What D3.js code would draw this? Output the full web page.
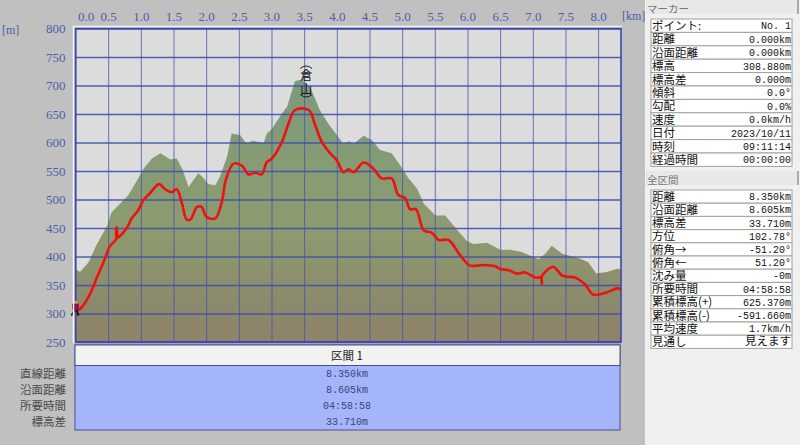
<!DOCTYPE html>
<html lang="ja">

<head>
  <meta charset="UTF-8">
  <title>Elevation profile</title>
  <script src="https://d3js.org/d3.v7.min.js"></script>
  <style>
    body {
      margin: 0;
      padding: 0;
      background: #c0c0c0;
      overflow: hidden;
    }

    svg {
      display: block;
    }

    text {
      font-family: "Noto Sans CJK JP", sans-serif;
    }

    .axis text {
      font-family: "Liberation Serif", serif;
      font-size: 13px;
      fill: #4f5da8;
    }

    .axis path,
    .axis .tick line {
      stroke: #3f4fb0;
    }

    .mono {
      font-family: "Liberation Mono", monospace;
      font-size: 10px;
    }
  </style>
</head>

<body>
  <div id="chart"></div>
  <script>
    const xTicks = [0, 0.5, 1, 1.5, 2, 2.5, 3, 3.5, 4, 4.5, 5, 5.5, 6, 6.5, 7, 7.5, 8];
    const yTicks = [250, 300, 350, 400, 450, 500, 550, 600, 650, 700, 750, 800];

    const terrainKm = [0, 0.01, 0.07, 0.2, 0.32, 0.49, 0.55, 0.81, 0.96, 1.04, 1.17, 1.3, 1.45, 1.55, 1.64, 1.73, 1.88, 1.95, 2.03, 2.14, 2.21, 2.32, 2.39, 2.52, 2.61, 2.72, 2.88, 2.93, 3, 3.16, 3.24, 3.36, 3.46, 3.59, 3.74, 3.87, 4, 4.1, 4.19, 4.26, 4.41, 4.54, 4.66, 4.84, 4.97, 5.1, 5.23, 5.33, 5.51, 5.66, 5.76, 5.99, 6.09, 6.3, 6.5, 6.65, 6.83, 7.01, 7.09, 7.19, 7.29, 7.45, 7.73, 7.85, 7.97, 8.13, 8.31, 8.35];
    const terrainM = [378, 377, 373, 390, 420, 455, 477, 508, 537, 554, 572, 581, 570, 572, 552, 522, 546, 539, 527, 525, 540, 575, 616, 613, 599, 603, 599, 616, 623, 651, 663, 708, 710, 698, 657, 633, 613, 598, 602, 598, 612, 604, 587, 581, 560, 537, 519, 493, 472, 472, 458, 427, 422, 424, 412, 412, 408, 399, 395, 405, 419, 405, 396, 390, 370, 373, 379, 376];

    const trackKm = [0, 0.07, 0.2, 0.32, 0.45, 0.52, 0.63, 0.63, 0.63, 0.78, 0.86, 0.96, 1.04, 1.14, 1.28, 1.37, 1.47, 1.55, 1.63, 1.7, 1.76, 1.86, 1.93, 2.01, 2.14, 2.24, 2.3, 2.42, 2.55, 2.65, 2.75, 2.85, 2.93, 3, 3.16, 3.26, 3.36, 3.57, 3.67, 3.77, 3.9, 4, 4.1, 4.18, 4.26, 4.41, 4.56, 4.69, 4.84, 4.94, 5.05, 5.12, 5.21, 5.33, 5.45, 5.56, 5.71, 5.89, 6.04, 6.24, 6.42, 6.5, 6.63, 6.76, 6.88, 7.04, 7.12, 7.14, 7.14, 7.19, 7.31, 7.46, 7.65, 7.8, 7.93, 8.13, 8.29, 8.35];
    const trackM = [305, 308, 329, 361, 396, 417, 432, 451, 432, 449, 467, 481, 499, 511, 527, 518, 513, 518, 493, 465, 465, 487, 487, 469, 467, 496, 534, 563, 559, 544, 547, 544, 566, 571, 601, 633, 657, 657, 630, 601, 581, 569, 548, 553, 548, 565, 554, 537, 537, 508, 502, 483, 483, 446, 442, 429, 429, 402, 384, 385, 383, 378, 376, 370, 372, 363, 363, 352, 366, 373, 382, 366, 363, 351, 333, 337, 344, 342];

    const sectionTitle = "区間 1";
    const sectionLabels = ["直線距離", "沿面距離", "所要時間", "標高差"];
    const sectionValues = ["8.350km", "8.605km", "04:58:58", "33.710m"];

    const markerLabels = ["ポイント:", "距離", "沿面距離", "標高", "標高差", "傾斜", "勾配", "速度", "日付", "時刻", "経過時間"];
    const markerValues = ["No. 1", "0.000km", "0.000km", "308.880m", "0.000m", "0.0°", "0.0%", "0.0km/h", "2023/10/11", "09:11:14", "00:00:00"];

    const totalLabels = ["距離", "沿面距離", "標高差", "方位", "俯角→", "俯角←", "沈み量", "所要時間", "累積標高(+)", "累積標高(-)", "平均速度", "見通し"];
    const totalValues = ["8.350km", "8.605km", "33.710m", "102.78°", "-51.20°", "51.20°", "-0m", "04:58:58", "625.370m", "-591.660m", "1.7km/h", "見えます"];

    const margin = { left: 75.5, top: 28.5 },
      width = 545.5,
      height = 313.5;

    const svg = d3.select("#chart")
      .append("svg")
      .attr("width", 800)
      .attr("height", 445);

    const g = svg.append("g")
      .attr("transform", `translate(${margin.left}, ${margin.top})`);

    const x = d3.scaleLinear().domain([0, 8.35]).range([0, width]);
    const y = d3.scaleLinear().domain([250, 800]).range([height, 0]);

    g.append("rect")
      .attr("width", width)
      .attr("height", height)
      .attr("fill", "#dcdcdc");

    // white edge around the plot
    svg.append("path")
      .attr("d", `M${margin.left - 2},${margin.top + height + 1}V${margin.top - 2}H${margin.left + width + 1}`)
      .attr("fill", "none")
      .attr("stroke", "#f4f4f4")
      .attr("stroke-width", 1.5);

    const grad = svg.append("defs").append("linearGradient")
      .attr("id", "ground")
      .attr("gradientUnits", "userSpaceOnUse")
      .attr("x1", 0).attr("x2", 0)
      .attr("y1", y(720)).attr("y2", y(250));
    [[0, "#7a9a7e"], [0.35, "#869c73"], [0.6, "#8e9a6e"], [0.85, "#8b8a6c"], [1, "#8f8268"]].forEach(s => {
      grad.append("stop").attr("offset", s[0]).attr("stop-color", s[1]);
    });

    const area = d3.area()
      .x((d, i) => x(terrainKm[i]))
      .y0(height)
      .y1(d => y(d));

    g.append("path")
      .datum(terrainM)
      .attr("d", area)
      .attr("fill", "url(#ground)");

    // grid lines come from the axes
    const yAxis = g.append("g")
      .attr("class", "axis")
      .call(d3.axisLeft(y).tickValues(yTicks).tickSize(-width).tickPadding(10).tickFormat(d3.format("d")));
    yAxis.select(".domain").remove();
    yAxis.selectAll(".tick line").attr("stroke-width", 1.3).attr("stroke-opacity", 0.9);

    const xAxis = g.append("g")
      .attr("class", "axis")
      .call(d3.axisTop(x).tickValues(xTicks).tickSize(-height).tickPadding(8).tickFormat(d3.format(".1f")));
    xAxis.select(".domain").remove();
    xAxis.selectAll(".tick line").attr("stroke-width", 1).attr("stroke-opacity", 0.75);
    xAxis.selectAll(".tick text").filter(d => d === 0).attr("dx", 10);

    g.append("rect")
      .attr("width", width)
      .attr("height", height)
      .attr("fill", "none")
      .attr("stroke", "#3a46a8")
      .attr("stroke-width", 1.6);

    const line = d3.line()
      .x((d, i) => x(trackKm[i]))
      .y(d => y(d))
      .curve(d3.curveCatmullRom.alpha(0.5));

    g.append("path")
      .datum(trackM)
      .attr("d", line)
      .attr("fill", "none")
      .attr("stroke", "#ee1111")
      .attr("stroke-width", 2.6)
      .attr("stroke-linejoin", "round");

    // unit labels
    svg.append("text").attr("class", "unit").attr("x", 2).attr("y", 34).text("[m]");
    svg.append("text").attr("class", "unit").attr("x", 622).attr("y", 20).text("[km]");
    svg.selectAll(".unit")
      .attr("font-size", 12)
      .attr("fill", "#4f5da8")
      .style("font-family", "Liberation Serif");

    // peak label, set vertically with arcs above and below
    const peak = g.append("g").attr("transform", `translate(${x(3.5) + 2}, ${y(700)})`);
    peak.append("text").attr("y", -6).text("倉");
    peak.append("text").attr("y", 8).text("山");
    peak.selectAll("text")
      .attr("text-anchor", "middle")
      .attr("font-size", 12)
      .attr("fill", "#111");
    peak.append("path")
      .attr("d", "M-6,-17Q0,-22 6,-17M-6,9Q0,14 6,9")
      .attr("fill", "none")
      .attr("stroke", "#111")
      .attr("stroke-width", 0.9);

    // walker icon at the start of the track
    const walker = g.append("g").attr("transform", `translate(${x(0)}, ${y(trackM[0])})`);
    walker.append("circle").attr("cx", 0).attr("cy", -8).attr("r", 2).attr("fill", "#d8a070");
    walker.append("rect").attr("x", -3.5).attr("y", -7).attr("width", 7).attr("height", 6).attr("fill", "#8a1840");
    walker.append("path").attr("d", "M-1,-1L-4,5M1,-1L3,5").attr("stroke", "#111").attr("stroke-width", 1.8);

    // section table under the plot
    const tableX = 75, tableW = 545;
    svg.append("rect").attr("x", tableX).attr("y", 345).attr("width", tableW).attr("height", 85)
      .attr("fill", "#a5b5fb").attr("stroke", "#4a4f90").attr("stroke-width", 1);
    svg.append("rect").attr("x", tableX).attr("y", 345).attr("width", tableW).attr("height", 20.5)
      .attr("fill", "#f2f2f0").attr("stroke", "#4a4f90").attr("stroke-width", 1);
    svg.append("text").attr("x", tableX + 272).attr("y", 360)
      .attr("text-anchor", "middle").attr("font-size", 11.5).attr("fill", "#222").text(sectionTitle);

    sectionLabels.forEach((label, i) => {
      const ty = 377.5 + i * 16;
      svg.append("text").attr("x", 66).attr("y", ty).attr("text-anchor", "end")
        .attr("font-size", 11.5).attr("fill", "#4a4a4a").text(label);
      svg.append("text").attr("class", "mono").attr("x", tableX + 272).attr("y", ty - 1).attr("text-anchor", "middle")
        .attr("fill", "#36467a").text(sectionValues[i]);
    });

    // right side panel
    svg.append("rect").attr("x", 645).attr("y", 0).attr("width", 155).attr("height", 445).attr("fill", "#f0f0f0");

    function tab(top, title) {
      svg.append("rect").attr("x", 646).attr("y", top).attr("width", 152).attr("height", 14)
        .attr("fill", "#e8e8e8");
      svg.append("path").attr("d", `M798,${top}v14`).attr("fill", "none").attr("stroke", "#666").attr("stroke-width", 1);
      svg.append("text").attr("x", 647).attr("y", top + 12.5).attr("font-size", 10.5).attr("fill", "#777").text(title);
    }

    function infoTable(top, rowH, labels, values) {
      const left = 651, right = 792;
      const rows = svg.append("g").selectAll("g")
        .data(labels)
        .enter()
        .append("g")
        .attr("transform", (d, i) => `translate(0, ${top + i * rowH})`);
      rows.append("rect")
        .attr("x", left)
        .attr("width", right - left)
        .attr("height", rowH)
        .attr("fill", "#fff")
        .attr("stroke", "#a0a0a0")
        .attr("stroke-width", 1);
      rows.append("text")
        .attr("x", left + 1)
        .attr("y", rowH - 2.5)
        .attr("font-size", 11.5)
        .attr("fill", "#111")
        .text(d => d);
      rows.append("text")
        .attr("class", d => d === "見通し" ? null : "mono")
        .attr("x", right - 1)
        .attr("y", rowH - 3)
        .attr("text-anchor", "end")
        .attr("font-size", 11.5)
        .attr("fill", "#111")
        .text((d, i) => values[i]);
    }

    tab(0, "マーカー");
    infoTable(19, 13.4, markerLabels, markerValues);
    tab(171, "全区間");
    infoTable(190, 13.2, totalLabels, totalValues);
  </script>
</body>

</html>
